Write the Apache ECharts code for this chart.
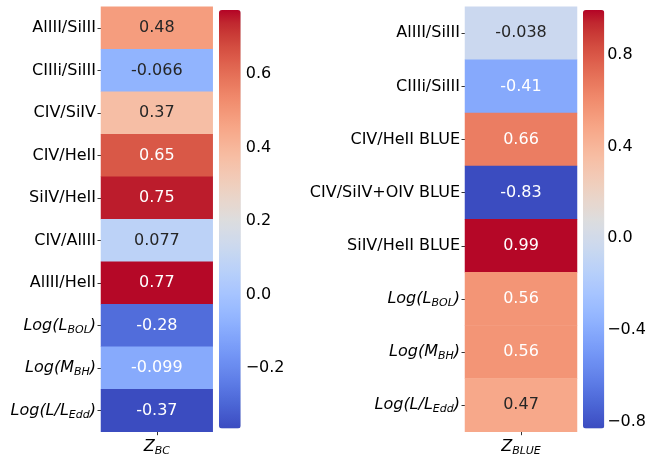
<!DOCTYPE html>
<html>
<head>
<meta charset="utf-8">
<script src="https://cdn.jsdelivr.net/npm/echarts@6/dist/echarts.min.js"></script>
<style>
html,body{margin:0;padding:0;background:#fff;}
#main{width:649px;height:458px;}
</style>
</head>
<body>
<div id="main"></div>
<script>
// ---- data ----
var leftCategories = ['AlIII/SiIII', 'CIIIi/SiIII', 'CIV/SiIV', 'CIV/HeII', 'SiIV/HeII', 'CIV/AlIII', 'AlIII/HeII', 'Log(L_BOL)', 'Log(M_BH)', 'Log(L/L_Edd)'];
var leftValues = [0.48, -0.066, 0.37, 0.65, 0.75, 0.077, 0.77, -0.28, -0.099, -0.37];
var leftColorRange = [-0.365, 0.774];   // unrounded data min / max (colour scale)
var leftXLabel = ['Z_BC'];
var leftCbTicks = [-0.2, 0.0, 0.2, 0.4, 0.6];

var rightCategories = ['AlIII/SiIII', 'CIIIi/SiIII', 'CIV/HeII BLUE', 'CIV/SiIV+OIV BLUE', 'SiIV/HeII BLUE', 'Log(L_BOL)', 'Log(M_BH)', 'Log(L/L_Edd)'];
var rightValues = [-0.038, -0.41, 0.66, -0.83, 0.99, 0.56, 0.56, 0.47];
var rightColorRange = [-0.828, 0.994];
var rightXLabel = ['Z_BLUE'];
var rightCbTicks = [-0.8, -0.4, 0.0, 0.4, 0.8];

// coolwarm colormap control points
var coolwarm = [
[59,76,192],[68,90,204],[77,104,215],[87,117,225],[98,130,234],[108,142,241],[119,154,247],[130,165,251],
[141,176,254],[152,185,255],[163,194,255],[174,201,253],[184,208,249],[194,213,244],[204,217,238],[213,219,230],
[221,221,221],[229,216,209],[236,211,197],[241,204,185],[245,196,173],[247,187,160],[247,177,148],[247,166,135],
[244,154,123],[241,141,111],[236,127,99],[229,112,88],[222,96,77],[213,80,66],[203,62,56],[192,40,47],[180,4,38]
];
function toHex(c){return '#'+c.map(function(x){var h=Math.round(x).toString(16);return h.length<2?'0'+h:h;}).join('');}
var cmapHex = coolwarm.map(toHex);
function cmap(t){
  t=Math.max(0,Math.min(1,t));
  var p=t*(coolwarm.length-1), i=Math.min(Math.floor(p),coolwarm.length-2), f=p-i;
  return [0,1,2].map(function(k){return coolwarm[i][k]+(coolwarm[i+1][k]-coolwarm[i][k])*f;});
}
function lum(c){
  var l=c.map(function(x){x/=255;return x<=0.03928?x/12.92:Math.pow((x+0.055)/1.055,2.4);});
  return 0.2126*l[0]+0.7152*l[1]+0.0722*l[2];
}
function textColor(v,mn,mx){return lum(cmap((v-mn)/(mx-mn)))>0.43?'#262626':'#ffffff';}

var FONT='DejaVu Sans';
var rich={
  n:{fontSize:16,fontFamily:FONT,color:'#000'},
  it:{fontSize:16,fontFamily:FONT,fontStyle:'italic',color:'#000'},
  sub:{fontSize:11,fontFamily:FONT,fontStyle:'italic',color:'#000',padding:[9,0,0,0]}
};
function fmtLabel(s){
  var m=/^(.*?)_([A-Za-z]+)(.*)$/.exec(s);
  if(!m) return '{n|'+s+'}';
  return '{it|'+m[1]+'}{sub|'+m[2]+'}'+(m[3]?'{it|'+m[3]+'}':'');
}
function cbFmt(v){
  var a=Math.abs(v)<1e-9?0:v;
  return (a<0?'\u2212':'')+Math.abs(a).toFixed(1);
}

var L={mn:leftColorRange[0],mx:leftColorRange[1]};
var R={mn:rightColorRange[0],mx:rightColorRange[1]};

function heatData(vals,r){
  return vals.map(function(v,i){return {value:[0,i,v],label:{color:textColor(v,r.mn,r.mx)}};});
}

var grids=[
  {left:101,top:6.7,width:111.7,height:425},
  {left:219,top:10,width:21.7,height:418.5},
  {left:465,top:6.7,width:112,height:425},
  {left:583,top:10,width:21.3,height:418.5}
];
function catX(gi,data){
  return {type:'category',gridIndex:gi,data:data,position:'bottom',
    axisLine:{show:false},
    axisTick:{show:true,alignWithLabel:true,length:3.5,lineStyle:{color:'#000',width:0.8}},
    axisLabel:{margin:5,formatter:fmtLabel,rich:rich},splitLine:{show:false}};
}
function catY(gi,data){
  return {type:'category',gridIndex:gi,data:data,inverse:true,
    axisLine:{show:false},
    axisTick:{show:true,alignWithLabel:true,length:3.5,lineStyle:{color:'#000',width:0.8}},
    axisLabel:{margin:5,formatter:fmtLabel,rich:rich},splitLine:{show:false}};
}
function hidX(gi){return {type:'value',gridIndex:gi,show:false,min:0,max:1};}
function cbY(gi,r,ticks){
  return {type:'value',gridIndex:gi,position:'right',min:r.mn,max:r.mx,
    axisLine:{show:false},splitLine:{show:false},
    axisTick:{show:true,length:3.5,lineStyle:{color:'#000',width:0.8},customValues:ticks},
    axisLabel:{show:true,margin:5,customValues:ticks,formatter:cbFmt,fontSize:16,fontFamily:FONT,color:'#000'}};
}

var option={
  animation:false,
  backgroundColor:'#fff',
  grid:grids,
  xAxis:[catX(0,leftXLabel),hidX(1),catX(2,rightXLabel),hidX(3)],
  yAxis:[catY(0,leftCategories),cbY(1,L,leftCbTicks),catY(2,rightCategories),cbY(3,R,rightCbTicks)],
  visualMap:[
    {type:'continuous',seriesIndex:0,min:L.mn,max:L.mx,left:219,top:10,itemWidth:21.7,itemHeight:418.5,
      padding:0,calculable:false,text:null,hoverLink:false,inRange:{color:cmapHex},textStyle:{color:'transparent'}},
    {type:'continuous',seriesIndex:2,min:R.mn,max:R.mx,left:583,top:10,itemWidth:21.3,itemHeight:418.5,
      padding:0,calculable:false,text:null,hoverLink:false,inRange:{color:cmapHex},textStyle:{color:'transparent'}}
  ],
  series:[
    {type:'heatmap',xAxisIndex:0,yAxisIndex:0,data:heatData(leftValues,L),
      label:{show:true,fontSize:16,fontFamily:FONT,formatter:function(p){return String(p.value[2]);}}},
    {type:'scatter',xAxisIndex:1,yAxisIndex:1,data:[]},
    {type:'heatmap',xAxisIndex:2,yAxisIndex:2,data:heatData(rightValues,R),
      label:{show:true,fontSize:16,fontFamily:FONT,formatter:function(p){return String(p.value[2]);}}},
    {type:'scatter',xAxisIndex:3,yAxisIndex:3,data:[]}
  ]
};
var chart=echarts.init(document.getElementById('main'),null,{renderer:'canvas'});
chart.setOption(option);
</script>
</body>
</html>
